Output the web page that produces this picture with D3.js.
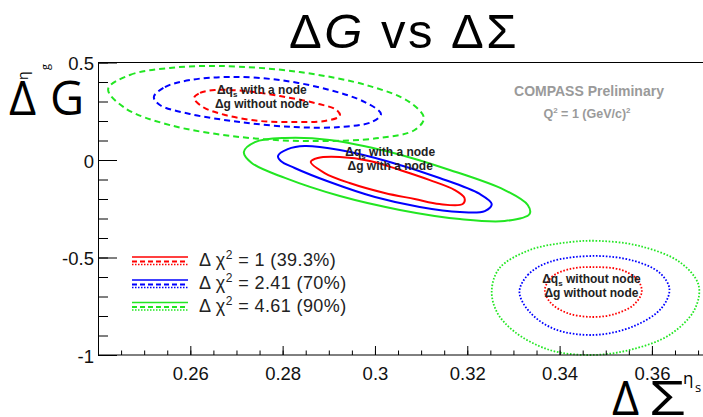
<!DOCTYPE html>
<html><head><meta charset="utf-8">
<script src="https://cdn.jsdelivr.net/npm/d3@7"></script>
<style>
html,body{margin:0;padding:0;background:#fff;}
svg{display:block;}
</style></head>
<body>
<script>
// ---------------- DATA ----------------
const xDomain = [0.24, 0.3715];
const yDomain = [-1, 0.5];
const xMajorTicks = [0.24, 0.26, 0.28, 0.30, 0.32, 0.34, 0.36];
const xTickLabels = ["", "0.26", "0.28", "0.3", "0.32", "0.34", "0.36"];
const yMajorTicks = [-1, -0.5, 0, 0.5];
const yTickLabels = ["-1", "-0.5", "0", "0.5"];
const legendLabels = ["1 (39.3%)", "2.41 (70%)", "4.61 (90%)"];

// Δq_s with a node, Δg without node (dashed)
const ulLevel1 = [[0.2608,0.318],[0.2621,0.344],[0.2653,0.359],[0.2718,0.354],[0.2794,0.328],[0.2870,0.292],[0.2917,0.256],[0.2924,0.226],[0.2891,0.200],[0.2826,0.195],[0.2751,0.200],[0.2675,0.231],[0.2627,0.272]];
const ulLevel2 = [[0.2521,0.323],[0.2545,0.374],[0.2599,0.410],[0.2686,0.426],[0.2794,0.410],[0.2902,0.359],[0.2978,0.297],[0.3013,0.236],[0.2993,0.195],[0.2924,0.169],[0.2826,0.169],[0.2707,0.195],[0.2599,0.236],[0.2534,0.282]];
const ulLevel3 = [[0.2422,0.364],[0.2469,0.436],[0.2556,0.472],[0.2664,0.482],[0.2837,0.451],[0.2989,0.379],[0.3075,0.297],[0.3106,0.215],[0.3086,0.154],[0.3010,0.113],[0.2859,0.097],[0.2707,0.118],[0.2556,0.179],[0.2458,0.267]];

// Δq_s with a node, Δg with a node (solid)
const cLevel1 = [[0.2861,-0.010],[0.2876,0.010],[0.2924,0.015],[0.2989,-0.005],[0.3054,-0.051],[0.3119,-0.103],[0.3173,-0.154],[0.3194,-0.195],[0.3190,-0.226],[0.3140,-0.226],[0.3086,-0.200],[0.3021,-0.169],[0.2945,-0.118],[0.2891,-0.067]];
const cLevel2 = [[0.2790,0.021],[0.2811,0.056],[0.2848,0.072],[0.2924,0.051],[0.3032,-0.010],[0.3140,-0.092],[0.3227,-0.174],[0.3253,-0.226],[0.3238,-0.262],[0.3184,-0.267],[0.3097,-0.241],[0.3000,-0.190],[0.2902,-0.113],[0.2826,-0.041],[0.2796,-0.005]];
const cLevel3 = [[0.2716,0.041],[0.2740,0.092],[0.2805,0.113],[0.2902,0.103],[0.3032,0.041],[0.3162,-0.051],[0.3281,-0.154],[0.3331,-0.231],[0.3335,-0.277],[0.3281,-0.313],[0.3184,-0.303],[0.3054,-0.256],[0.2924,-0.185],[0.2805,-0.092],[0.2733,-0.015]];

// Δq_s without node, Δg without node (dotted)
const lrLevel1 = [[0.3368,-0.667],[0.3383,-0.600],[0.3422,-0.559],[0.3476,-0.549],[0.3534,-0.564],[0.3569,-0.615],[0.3578,-0.677],[0.3560,-0.744],[0.3519,-0.790],[0.3471,-0.805],[0.3417,-0.785],[0.3381,-0.733]];
const lrLevel2 = [[0.3313,-0.677],[0.3331,-0.590],[0.3378,-0.523],[0.3476,-0.492],[0.3562,-0.518],[0.3617,-0.579],[0.3638,-0.662],[0.3621,-0.759],[0.3562,-0.851],[0.3476,-0.897],[0.3389,-0.867],[0.3335,-0.779]];
const lrLevel3 = [[0.3253,-0.667],[0.3270,-0.554],[0.3335,-0.462],[0.3422,-0.421],[0.3487,-0.415],[0.3573,-0.441],[0.3660,-0.523],[0.3701,-0.641],[0.3692,-0.769],[0.3638,-0.897],[0.3552,-0.974],[0.3465,-1.000],[0.3378,-0.974],[0.3303,-0.882],[0.3264,-0.779]];

const groupLabels = [
  {pos:[0.2755, 0.33], q:"with a node", g:"without node"},
  {pos:[0.3033, 0.01], q:"with a node", g:"with a node"},
  {pos:[0.3469, -0.64], q:"without node", g:"without node"}
];

// ---------------- STYLE ----------------
const W = 703, H = 417;
const colors = ["#ff0000", "#0000ff", "#22e622"];
const styles = {solid:null, dashed:"6,4", dotted:"1.6,1.7"};
const sans = "'Liberation Sans', Arial, sans-serif";
const human = "'Open Sans', 'DejaVu Sans', sans-serif";

const svg = d3.select("body").append("svg").attr("width", W).attr("height", H)
  .style("font-family", sans);

const x = d3.scaleLinear().domain(xDomain).range([98, 705]);
const y = d3.scaleLinear().domain(yDomain).range([355, 62.5]);

// Title
const title = svg.append("text").attr("x", 404).attr("y", 48).attr("text-anchor", "middle")
  .style("font-family", sans).style("font-size", "49px").style("letter-spacing", "2.5px").attr("fill", "#000");
title.append("tspan").text("Δ");
title.append("tspan").text("G").style("font-style", "italic");
title.append("tspan").text(" vs Δ\u03A3");

// Frame top line
svg.append("line").attr("x1", x(xDomain[0])).attr("x2", W).attr("y1", y(0.5)).attr("y2", y(0.5))
  .attr("stroke", "#000").attr("stroke-width", 1.2);

// Contours
const line = d3.line().x(d => x(d[0])).y(d => y(d[1])).curve(d3.curveCatmullRomClosed.alpha(0.5));
const groups = [
  {sets:[ulLevel1, ulLevel2, ulLevel3], dash:styles.dashed, w:2},
  {sets:[cLevel1, cLevel2, cLevel3], dash:styles.solid, w:2},
  {sets:[lrLevel1, lrLevel2, lrLevel3], dash:styles.dotted, w:1.8}
];
groups.forEach(g => {
  g.sets.forEach((pts, i) => {
    svg.append("path").attr("d", line(pts)).attr("fill", "none")
      .attr("stroke", colors[i]).attr("stroke-width", g.w)
      .attr("stroke-dasharray", g.dash);
  });
});

// Axes
const xMinor = d3.range(0.24, 0.3716, 0.005);
svg.append("g").attr("transform", `translate(0,${y(-1)})`)
  .call(d3.axisBottom(x).tickValues(xMinor).tickSize(-4.5).tickFormat("").tickSizeOuter(0))
  .call(g => g.select(".domain").remove());
svg.append("g").attr("transform", `translate(0,${y(-1)})`)
  .call(d3.axisBottom(x).tickValues(xMajorTicks).tickSize(-9).tickSizeOuter(0).tickPadding(12)
    .tickFormat((d, i) => xTickLabels[i]))
  .call(g => g.select(".domain").attr("d", `M${x(xDomain[0])},0H${W}`))
  .call(g => g.selectAll("text").style("font-size", "18.5px").style("font-family", sans).attr("fill", "#111"));

const yMinor = d3.range(-1, 0.501, 0.1);
svg.append("g").attr("transform", `translate(${x(xDomain[0])},0)`)
  .call(d3.axisLeft(y).tickValues(yMinor).tickSize(-10).tickFormat("").tickSizeOuter(0))
  .call(g => g.select(".domain").remove());
svg.append("g").attr("transform", `translate(${x(xDomain[0])},0)`)
  .call(d3.axisLeft(y).tickValues(yMajorTicks).tickSize(-19).tickSizeOuter(0).tickPadding(4)
    .tickFormat((d, i) => yTickLabels[i]))
  .call(g => g.selectAll("text").style("font-size", "18.5px").style("font-family", sans).attr("fill", "#111").attr("dy", "0.4em"));

// Axis titles
const ytitle = svg.append("g").style("font-family", human).attr("fill", "#000");
ytitle.append("text").attr("x", 9).attr("y", 115).style("font-size", "47px").text("Δ");
ytitle.append("text").attr("x", 50).attr("y", 115).style("font-size", "47px").text("G");
ytitle.append("text").attr("transform", "translate(28,80) rotate(-90)").style("font-size", "14px").text("η");
ytitle.append("text").attr("transform", "translate(49,70) rotate(-90)").style("font-size", "11px").text("g");

const xtitle = svg.append("g").style("font-family", human).attr("fill", "#000");
xtitle.append("text").attr("x", 612).attr("y", 415).style("font-size", "47px").text("Δ");
xtitle.append("text").attr("x", 650).attr("y", 415).style("font-size", "47px")
  .attr("textLength", 35).attr("lengthAdjust", "spacingAndGlyphs").text("\u03A3");
xtitle.append("text").attr("x", 683).attr("y", 384).style("font-size", "17px").text("η");
xtitle.append("text").attr("x", 695).attr("y", 392).style("font-size", "13px").text("s");

// Legend
const legendBase = [266, 289, 311.5];
legendLabels.forEach((lab, i) => {
  const by = legendBase[i];
  const gL = svg.append("g");
  gL.append("line").attr("x1", 132).attr("x2", 188).attr("y1", by - 9).attr("y2", by - 9)
    .attr("stroke", colors[i]).attr("stroke-width", 1.5);
  gL.append("line").attr("x1", 132).attr("x2", 188).attr("y1", by - 4.5).attr("y2", by - 4.5)
    .attr("stroke", colors[i]).attr("stroke-width", 2.2).attr("stroke-dasharray", "5,3");
  gL.append("line").attr("x1", 132).attr("x2", 188).attr("y1", by - 1.5).attr("y2", by - 1.5)
    .attr("stroke", colors[i]).attr("stroke-width", 1.5).attr("stroke-dasharray", "1.5,1.5");
  const t = gL.append("text").attr("x", 199).attr("y", by).style("font-size", "18px")
    .style("letter-spacing", "0.4px").attr("fill", "#222");
  t.append("tspan").text("Δ χ");
  t.append("tspan").attr("dy", -7).style("font-size", "12px").text("2");
  t.append("tspan").attr("dy", 7).text(" = " + lab);
});

// Group labels
groupLabels.forEach(gl => {
  const cx = x(gl.pos[0]), cy = y(gl.pos[1]);
  const t1 = svg.append("text").attr("x", cx).attr("y", cy - 2).attr("text-anchor", "middle")
    .style("font-size", "12px").style("font-weight", "bold").attr("fill", "#222");
  t1.append("tspan").text("Δq");
  t1.append("tspan").attr("dy", 3).style("font-size", "8px").text("s");
  t1.append("tspan").attr("dy", -3).text(" " + gl.q);
  svg.append("text").attr("x", cx).attr("y", cy + 12).attr("text-anchor", "middle")
    .style("font-size", "12px").style("font-weight", "bold").attr("fill", "#222").text("Δg " + gl.g);
});

// Annotations
svg.append("text").attr("x", 589).attr("y", 96).attr("text-anchor", "middle")
  .style("font-size", "14px").style("font-weight", "bold").attr("fill", "#9a9a9a").text("COMPASS Preliminary");
const q = svg.append("text").attr("x", 587).attr("y", 118).attr("text-anchor", "middle")
  .style("font-size", "12.5px").style("font-weight", "bold").attr("fill", "#9a9a9a");
q.append("tspan").text("Q");
q.append("tspan").attr("dy", -5).style("font-size", "8px").text("2");
q.append("tspan").attr("dy", 5).text(" = 1 (GeV/c)");
q.append("tspan").attr("dy", -5).style("font-size", "8px").text("2");
</script>
</body></html>
